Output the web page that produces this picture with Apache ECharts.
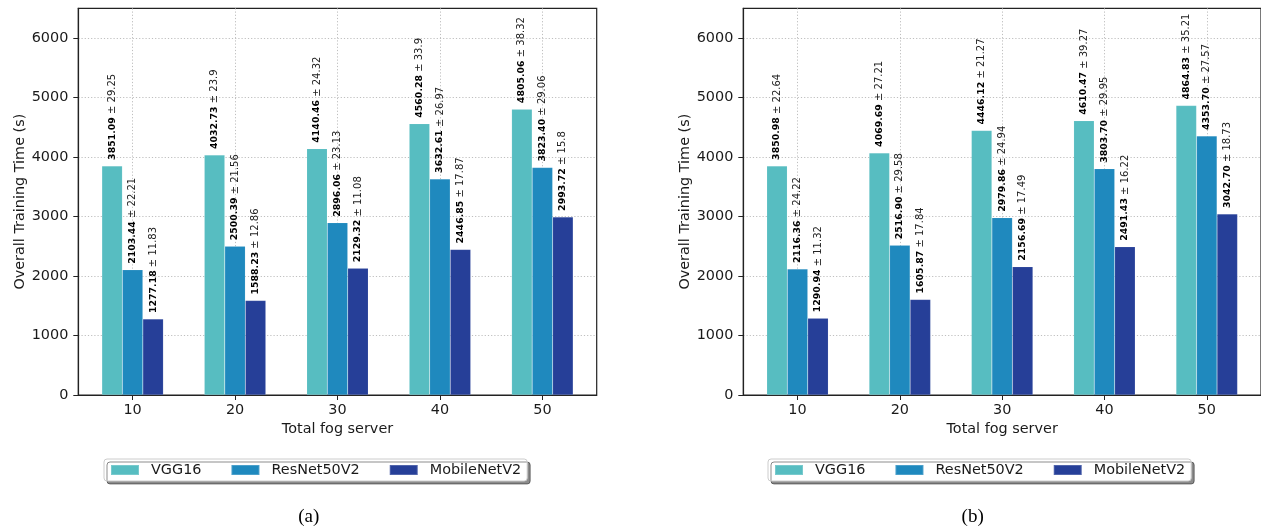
<!DOCTYPE html>
<html>
<head>
<meta charset="utf-8">
<script src="https://cdn.jsdelivr.net/npm/echarts@6/dist/echarts.min.js"></script>
<style>
  html, body { margin: 0; padding: 0; background: #ffffff; }
  #chart { width: 1261px; height: 529px; }
</style>
</head>
<body>
<div id="chart"></div>
<script>
// Number of fog servers on the x axis
const servers = [10, 20, 30, 40, 50];
const yTicks = [0, 1000, 2000, 3000, 4000, 5000, 6000];
const modelNames = ['VGG16', 'ResNet50V2', 'MobileNetV2'];

// Panel (a): mean training time and standard deviation per model
const vggMeanA = [3851.09, 4032.73, 4140.46, 4560.28, 4805.06];
const vggStdA = [29.25, 23.9, 24.32, 33.9, 38.32];
const resMeanA = [2103.44, 2500.39, 2896.06, 3632.61, 3823.40];
const resStdA = [22.21, 21.56, 23.13, 26.97, 29.06];
const mobMeanA = [1277.18, 1588.23, 2129.32, 2446.85, 2993.72];
const mobStdA = [11.83, 12.86, 11.08, 17.87, 15.8];

// Panel (b)
const vggMeanB = [3850.98, 4069.69, 4446.12, 4610.47, 4864.83];
const vggStdB = [22.64, 27.21, 21.27, 39.27, 35.21];
const resMeanB = [2116.36, 2516.90, 2979.86, 3803.70, 4353.70];
const resStdB = [24.22, 29.58, 24.94, 29.95, 27.57];
const mobMeanB = [1290.94, 1605.87, 2156.69, 2491.43, 3042.70];
const mobStdB = [11.32, 17.84, 17.49, 16.22, 18.73];

const colors = ['#57bdc1', '#1f89be', '#263f98'];
const FONT = 'DejaVu Sans';
const INK = '#1a1a1a';

function barSeries(name, means, stds, color, idx) {
  return {
    type: 'bar',
    name: name,
    xAxisIndex: idx,
    yAxisIndex: idx,
    barWidth: 20.5,
    barGap: '0%',
    itemStyle: { color: color, borderColor: 'rgba(255,255,255,0.2)', borderWidth: 0.5 },
    data: servers.map((s, i) => [s, means[i]]),
    label: {
      show: true,
      position: 'top',
      rotate: 90,
      align: 'left',
      verticalAlign: 'middle',
      distance: 6,
      formatter: p => '{b|' + p.value[1].toFixed(2) + '}{n| \u00b1 ' + String(stds[p.dataIndex]) + '}',
      rich: {
        b: { fontFamily: FONT, fontWeight: 'bold', fontSize: 9.4, color: '#000' },
        n: { fontFamily: FONT, fontSize: 10, color: '#222' }
      }
    }
  };
}

function xAxisFor(idx) {
  return {
    type: 'value',
    gridIndex: idx,
    min: 4.7,
    max: 55.3,
    name: 'Total fog server',
    nameLocation: 'middle',
    nameGap: 27,
    nameTextStyle: { fontFamily: FONT, fontSize: 14.4, color: INK },
    axisLine: { show: true, lineStyle: { color: '#222', width: 1.2 } },
    axisTick: { show: true, length: 5, customValues: servers, lineStyle: { color: '#222', width: 1 } },
    axisLabel: { customValues: servers, margin: 8, fontFamily: FONT, fontSize: 14.4, color: INK, formatter: v => String(v) },
    splitLine: { show: true, lineStyle: { color: '#b8b8b8', width: 0.9, type: [1.2, 2] } }
  };
}

function yAxisFor(idx) {
  return {
    type: 'value',
    gridIndex: idx,
    min: 0,
    max: 6500,
    name: 'Overall Training Time (s)',
    nameLocation: 'middle',
    nameGap: 51,
    nameTextStyle: { fontFamily: FONT, fontSize: 14.4, color: INK },
    axisLine: { show: true, lineStyle: { color: '#222', width: 1.2 } },
    axisTick: { show: true, length: 5, customValues: yTicks, lineStyle: { color: '#222', width: 1 } },
    axisLabel: { customValues: yTicks, margin: 10, fontFamily: FONT, fontSize: 14.4, color: INK, formatter: v => String(v) },
    splitLine: { show: true, lineStyle: { color: '#b8b8b8', width: 0.9, type: [1.2, 2] } }
  };
}

function legendAt(left) {
  return {
    left: left,
    top: 459,
    orient: 'horizontal',
    data: modelNames,
    icon: 'rect',
    itemWidth: 28,
    itemHeight: 10,
    itemGap: 29,
    padding: [4, 6, 4, 6],
    backgroundColor: '#ffffff',
    borderColor: '#cccccc',
    borderWidth: 1,
    borderRadius: 3,
    shadowColor: 'rgba(0,0,0,0.45)',
    shadowBlur: 0,
    shadowOffsetX: 3,
    shadowOffsetY: 3,
    selectedMode: false,
    textStyle: { fontFamily: FONT, fontSize: 14.4, color: INK, padding: [0, 0, 0, 7] }
  };
}

const chart = echarts.init(document.getElementById('chart'), null, { renderer: 'canvas' });

chart.setOption({
  animation: false,
  backgroundColor: '#ffffff',
  color: colors,
  grid: [
    { left: 78.3, top: 8.3, width: 518.4, height: 386.7, show: true, borderColor: '#222', borderWidth: 1.2, backgroundColor: 'transparent', containLabel: false },
    { left: 743.3, top: 8.3, width: 519.6, height: 386.7, show: true, borderColor: '#222', borderWidth: 1.2, backgroundColor: 'transparent', containLabel: false }
  ],
  xAxis: [xAxisFor(0), xAxisFor(1)],
  yAxis: [yAxisFor(0), yAxisFor(1)],
  legend: [legendAt(104), legendAt(768)],
  series: [
    barSeries('VGG16', vggMeanA, vggStdA, colors[0], 0),
    barSeries('ResNet50V2', resMeanA, resStdA, colors[1], 0),
    barSeries('MobileNetV2', mobMeanA, mobStdA, colors[2], 0),
    barSeries('VGG16', vggMeanB, vggStdB, colors[0], 1),
    barSeries('ResNet50V2', resMeanB, resStdB, colors[1], 1),
    barSeries('MobileNetV2', mobMeanB, mobStdB, colors[2], 1)
  ],
  graphic: [
    { type: 'text', x: 308.7, y: 517, style: { text: '(a)', font: '19px "Liberation Serif"', fill: '#000', align: 'center', verticalAlign: 'middle' } },
    { type: 'text', x: 972.7, y: 517, style: { text: '(b)', font: '19px "Liberation Serif"', fill: '#000', align: 'center', verticalAlign: 'middle' } }
  ]
});
</script>
</body>
</html>
